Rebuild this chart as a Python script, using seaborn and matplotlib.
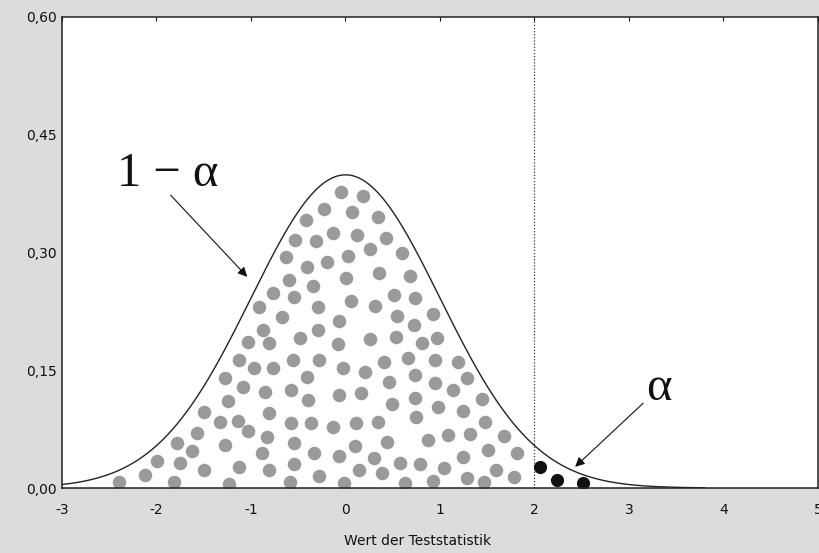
import numpy as np
import pandas as pd
import matplotlib
matplotlib.use("Agg")
import matplotlib.pyplot as plt
import seaborn as sns

# Density of the test statistic (standard normal)
curve_x = np.linspace(-3, 3.8, 600)
curve_y = np.exp(-curve_x ** 2 / 2) / np.sqrt(2 * np.pi)

# Acceptance region: sample points under the density (1 - alpha)
accept_x = [-2.40, -2.12, -1.99, -1.82, -1.78, -1.75, -1.62, -1.57, -1.50, -1.50,
            -1.33, -1.27, -1.28, -1.24, -1.23, -1.14, -1.13, -1.13, -1.08, -1.03,
            -1.03, -0.97, -0.92, -0.88, -0.87, -0.85, -0.83, -0.81, -0.81, -0.81,
            -0.77, -0.77, -0.67, -0.63, -0.60, -0.59, -0.58, -0.58, -0.56, -0.55,
            -0.55, -0.54, -0.53, -0.48, -0.05, 0.18, -0.23, 0.07, 0.34, -0.42,
            -0.13, 0.12, 0.43, -0.31, 0.26, 0.60, 0.03, -0.20, -0.41, 0.35,
            0.68, 0.01, -0.34, 0.51, 0.74, 0.06, 0.31, -0.29, 0.93, -0.07,
            0.55, 0.72, -0.29, 0.26, 0.53, 0.81, 0.97, -0.08, -0.28, 0.41,
            0.66, 0.95, 1.19, -0.03, 0.21, -0.41, 0.74, 1.29, 0.46, 0.95,
            1.14, -0.07, 0.16, 0.49, 0.74, -0.40, 0.98, 1.24, 1.44, 0.75,
            -0.36, -0.13, 0.11, 0.34, 1.48, 0.87, 0.44, 1.08, 1.32, 1.68,
            0.10, -0.33, -0.07, 0.30, 0.58, 0.79, 1.24, 1.51, 1.82, 0.14,
            0.39, 1.04, 1.59, -0.28, -0.02, 0.63, 0.93, 1.29, 1.47, 1.78]
accept_y = [0.008, 0.017, 0.034, 0.008, 0.057, 0.032, 0.047, 0.070, 0.097, 0.023,
            0.084, 0.140, 0.055, 0.111, 0.005, 0.085, 0.027, 0.163, 0.129, 0.073,
            0.186, 0.153, 0.231, 0.045, 0.201, 0.122, 0.065, 0.185, 0.096, 0.023,
            0.248, 0.153, 0.218, 0.294, 0.265, 0.008, 0.125, 0.083, 0.163, 0.243,
            0.057, 0.031, 0.316, 0.191, 0.377, 0.372, 0.355, 0.352, 0.345, 0.341,
            0.325, 0.322, 0.318, 0.315, 0.304, 0.299, 0.296, 0.288, 0.282, 0.274,
            0.270, 0.268, 0.257, 0.246, 0.242, 0.238, 0.232, 0.231, 0.222, 0.213,
            0.219, 0.208, 0.201, 0.190, 0.192, 0.185, 0.191, 0.183, 0.163, 0.161,
            0.166, 0.163, 0.161, 0.153, 0.148, 0.141, 0.144, 0.140, 0.135, 0.134,
            0.125, 0.118, 0.121, 0.107, 0.115, 0.112, 0.103, 0.098, 0.113, 0.090,
            0.083, 0.078, 0.083, 0.084, 0.084, 0.061, 0.059, 0.068, 0.069, 0.066,
            0.054, 0.045, 0.041, 0.038, 0.032, 0.031, 0.039, 0.048, 0.045, 0.023,
            0.019, 0.025, 0.023, 0.015, 0.006, 0.006, 0.009, 0.013, 0.008, 0.014]

# Rejection region: sample points beyond the critical value (alpha)
reject_x = [2.06, 2.24, 2.51]
reject_y = [0.027, 0.010, 0.006]

critical_value = 2.0
x_ticks = [-3, -2, -1, 0, 1, 2, 3, 4, 5]
x_tick_labels = ["-3", "-2", "-1", "0", "1", "2", "3", "4", "5"]
y_ticks = [0.00, 0.15, 0.30, 0.45, 0.60]
y_tick_labels = ["0,00", "0,15", "0,30", "0,45", "0,60"]

sns.set_style("white")
plt.rcParams["font.family"] = ["DejaVu Sans"]
plt.rcParams["axes.unicode_minus"] = False
serif = ["Liberation Serif", "DejaVu Serif"]

fig = plt.figure(figsize=(8.2, 5.53), dpi=100, facecolor="#dcdcdc")
ax = fig.add_axes([62 / 820, 65 / 553, 756 / 820, 471 / 553])
ax.set_facecolor("white")

accept_df = pd.DataFrame({"x": accept_x, "y": accept_y})
reject_df = pd.DataFrame({"x": reject_x, "y": reject_y})
curve_df = pd.DataFrame({"x": curve_x, "y": curve_y})

sns.scatterplot(data=accept_df, x="x", y="y", ax=ax, color="#9a9a9a",
                s=95, linewidth=0, marker="o", zorder=2)
sns.scatterplot(data=reject_df, x="x", y="y", ax=ax, color="#111111",
                s=90, linewidth=0, marker="o", zorder=2)
sns.lineplot(data=curve_df, x="x", y="y", ax=ax, color="#222222",
             linewidth=1.0, zorder=3)

ax.axvline(critical_value, color="#333333", linestyle=(0, (1, 1.5)),
           linewidth=0.9, zorder=1)

ax.set_xlim(-3, 5)
ax.set_ylim(0, 0.60)
ax.set_xticks(x_ticks)
ax.set_xticklabels(x_tick_labels)
ax.set_yticks(y_ticks)
ax.set_yticklabels(y_tick_labels)
ax.tick_params(axis="both", direction="in", length=3, width=0.8,
               labelsize=10, colors="#111111", top=True, right=False)
ax.tick_params(axis="x", pad=11)
ax.tick_params(axis="y", pad=4)

for side in ["left", "right", "top", "bottom"]:
    ax.spines[side].set_visible(True)
    ax.spines[side].set_color("#222222")
    ax.spines[side].set_linewidth(1.1)

ax.set_xlabel("Wert der Teststatistik", fontsize=10, color="#111111")
ax.xaxis.label.set_verticalalignment("center")
ax.xaxis.set_label_coords(0.47, -0.112)
ax.set_ylabel("")

# Labels for the two regions, with arrows pointing at the curve
ax.text(-1.88, 0.400, "1 − α", fontsize=35, family=serif,
        ha="center", va="center", color="#111111")
ax.annotate("", xy=(-1.04, 0.269), xytext=(-1.85, 0.373),
            arrowprops=dict(arrowstyle="-|>", color="#111111", lw=0.8,
                            mutation_scale=14, shrinkA=0, shrinkB=0))
ax.text(3.32, 0.127, "α", fontsize=35, family=serif,
        ha="center", va="center", color="#111111")
ax.annotate("", xy=(2.43, 0.027), xytext=(3.15, 0.108),
            arrowprops=dict(arrowstyle="-|>", color="#111111", lw=0.8,
                            mutation_scale=14, shrinkA=0, shrinkB=0))

fig.savefig("out.png", dpi=100, facecolor=fig.get_facecolor())
